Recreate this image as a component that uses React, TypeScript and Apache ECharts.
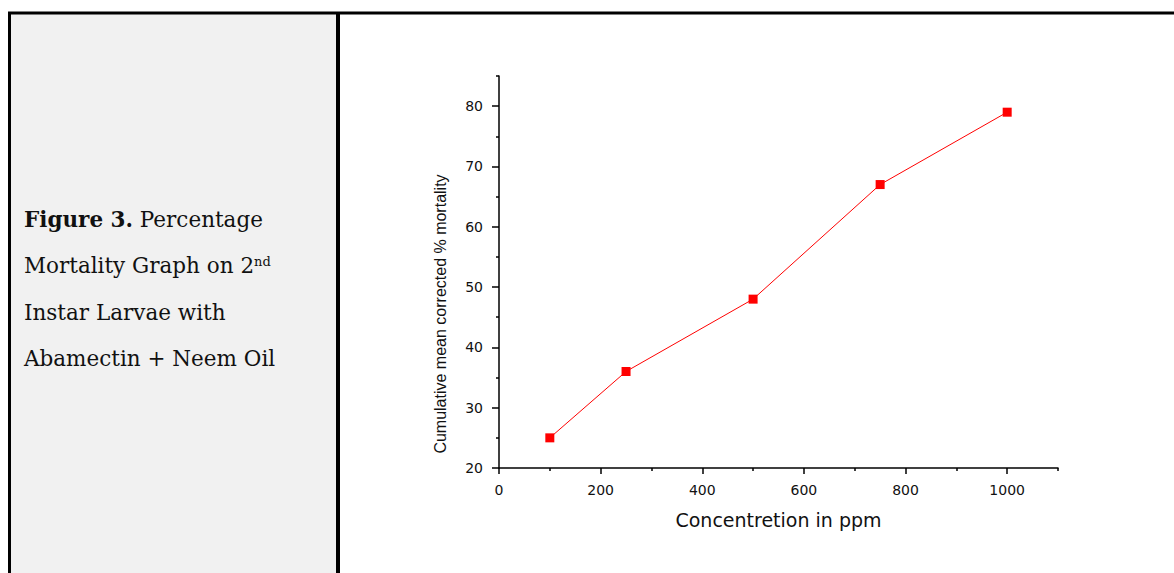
import React, { useEffect, useRef } from "react";
import * as echarts from "echarts";

const concentrations = [100, 250, 500, 750, 1000];
const mortality = [25, 36, 48, 67, 79];
const xMajorTicks = [0, 200, 400, 600, 800, 1000];
const xMinorTicks = [100, 300, 500, 700, 900, 1100];
const yMajorTicks = [20, 30, 40, 50, 60, 70, 80];
const yMinorTicks = [25, 35, 45, 55, 65, 75, 85];
const xAxisTitle = "Concentretion in ppm";
const yAxisTitle = "Cumulative mean corrected % mortality";

const W = 1174;
const H = 573;

export default function App() {
  const ref = useRef<HTMLDivElement>(null);
  useEffect(() => {
    if (!ref.current) return;
    const chart = echarts.init(ref.current, null, { renderer: "svg", width: W, height: H });
    const axisFont = { fontFamily: "DejaVu Sans", fontSize: 14, color: "#111", formatter: (v: number) => String(v) };
    const serif = "DejaVu Serif";
    const capSize = 21.5;
    const capStyle = { fontFamily: serif, fontSize: capSize, fill: "#111" };
    chart.setOption({
      animation: false,
      backgroundColor: "#fff",
      grid: { left: 499, top: 76, right: W - 1058, bottom: H - 468, containLabel: false },
      xAxis: [
        {
          type: "value",
          min: 0,
          max: 1100,
          interval: 200,
          position: "bottom",
          axisLine: { show: true, onZero: false, lineStyle: { color: "#000", width: 1.5 } },
          axisTick: { show: true, customValues: xMajorTicks, length: 6, lineStyle: { color: "#000", width: 1.5 } },
          axisLabel: { customValues: xMajorTicks, margin: 15, ...axisFont },
          splitLine: { show: false },
          name: xAxisTitle,
          nameLocation: "middle",
          nameGap: 42,
          nameTextStyle: { fontFamily: "DejaVu Sans", fontSize: 19, color: "#111" },
        },
        {
          type: "value",
          min: 0,
          max: 1100,
          interval: 100,
          position: "bottom",
          axisLine: { show: false },
          axisTick: { show: true, customValues: xMinorTicks, length: 3, lineStyle: { color: "#000", width: 1.5 } },
          axisLabel: { show: false },
          splitLine: { show: false },
        },
      ],
      yAxis: [
        {
          type: "value",
          min: 20,
          max: 85,
          interval: 10,
          position: "left",
          axisLine: { show: true, onZero: false, lineStyle: { color: "#000", width: 1.5 } },
          axisTick: { show: true, customValues: yMajorTicks, length: 7, lineStyle: { color: "#000", width: 1.5 } },
          axisLabel: { customValues: yMajorTicks, margin: 16, ...axisFont },
          splitLine: { show: false },
        },
        {
          type: "value",
          min: 20,
          max: 85,
          interval: 5,
          position: "left",
          axisLine: { show: false },
          axisTick: { show: true, customValues: yMinorTicks, length: 3, lineStyle: { color: "#000", width: 1.5 } },
          axisLabel: { show: false },
          splitLine: { show: false },
        },
      ],
      series: [
        {
          type: "line",
          xAxisIndex: 0,
          yAxisIndex: 0,
          data: concentrations.map((c, i) => [c, mortality[i]]),
          symbol: "rect",
          symbolSize: 9,
          itemStyle: { color: "#ff0000" },
          lineStyle: { color: "#ff0000", width: 1 },
          z: 5,
        },
      ],
      graphic: [
        { type: "rect", shape: { x: 10, y: 14, width: 326, height: H - 14 }, style: { fill: "#f1f1f1" }, silent: true },
        { type: "line", shape: { x1: 8, y1: 13, x2: W, y2: 13 }, style: { stroke: "#000", lineWidth: 3 }, silent: true },
        { type: "line", shape: { x1: 9.5, y1: 12, x2: 9.5, y2: H }, style: { stroke: "#000", lineWidth: 3 }, silent: true },
        { type: "line", shape: { x1: 338, y1: 12, x2: 338, y2: H }, style: { stroke: "#000", lineWidth: 4 }, silent: true },
        {
          type: "text",
          x: 24,
          y: 230,
          style: {
            rich: { b: { ...capStyle, fontWeight: "bold" }, n: { ...capStyle } },
            text: "{b|Figure 3.}{n| Percentage}",
            verticalAlign: "bottom",
          },
        },
        {
          type: "text",
          x: 24,
          y: 276.5,
          style: {
            rich: { n: { ...capStyle }, s: { fontFamily: serif, fontSize: 13, fill: "#111", verticalAlign: "top" } },
            text: "{n|Mortality Graph on 2}{s|nd}",
            verticalAlign: "bottom",
          },
        },
        { type: "text", x: 24, y: 323, style: { ...capStyle, text: "Instar Larvae with", verticalAlign: "bottom" } },
        { type: "text", x: 24, y: 369.5, style: { ...capStyle, text: "Abamectin + Neem Oil", verticalAlign: "bottom" } },
        {
          type: "text",
          x: 440,
          y: 314,
          rotation: Math.PI / 2,
          style: {
            text: yAxisTitle,
            fontFamily: "Liberation Sans",
            fontSize: 16,
            fill: "#111",
            align: "center",
            verticalAlign: "middle",
          },
        },
      ],
    });
    return () => chart.dispose();
  }, []);
  return <div ref={ref} style={{ position: "fixed", left: 0, top: 0, width: W, height: H }} />;
}
